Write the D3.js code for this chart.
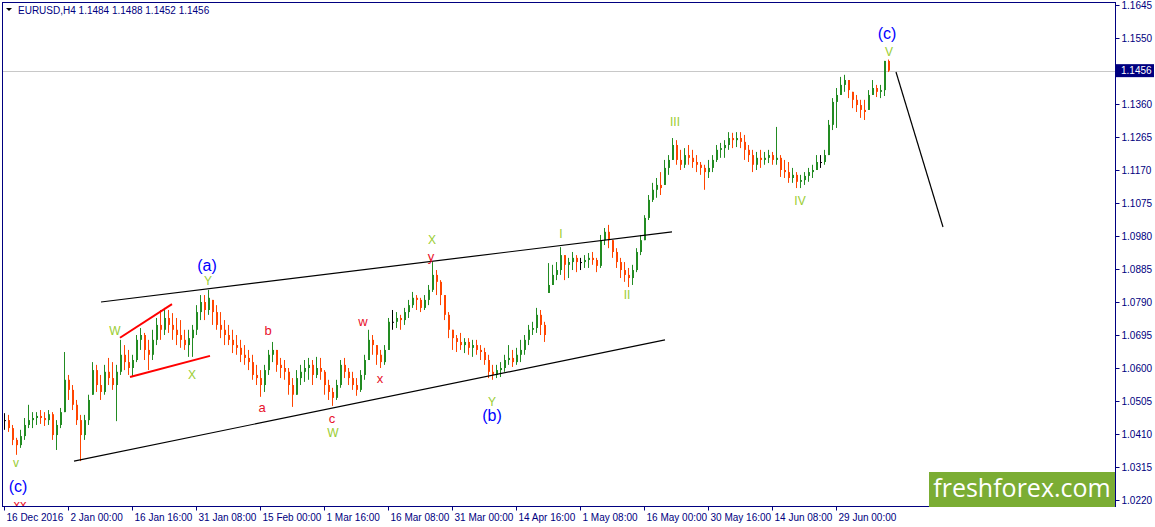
<!DOCTYPE html>
<html>
<head>
<meta charset="utf-8">
<script src="https://cdn.jsdelivr.net/npm/d3@7"></script>
<style>
  body { margin: 0; background: #fff; }
  svg { display: block; font-family: "Liberation Sans", Arial, sans-serif; }
</style>
</head>
<body>
<div id="chart"></div>
<script>
// EURUSD H4, 16 Dec 2016 .. early Jul 2017 (each bar here ~ 4 real H4 bars)
var highs = [1.0470,1.0465,1.0436,1.0399,1.0422,1.0456,1.0494,1.0473,1.0473,1.0479,1.0473,1.0479,1.0473,1.0450,1.0485,1.0646,
  1.0580,1.0551,1.0508,1.0465,1.0465,1.0523,1.0617,1.0609,1.0580,1.0609,1.0629,1.0617,1.0609,1.0681,1.0666,1.0652,
  1.0638,1.0695,1.0715,1.0701,1.0681,1.0710,1.0744,1.0767,1.0773,1.0767,1.0758,1.0744,1.0738,1.0710,1.0710,1.0724,
  1.0781,1.0810,1.0810,1.0825,1.0796,1.0781,1.0761,1.0738,1.0724,1.0710,1.0695,1.0681,1.0666,1.0652,1.0638,1.0609,
  1.0594,1.0609,1.0652,1.0675,1.0652,1.0629,1.0623,1.0600,1.0571,1.0594,1.0609,1.0623,1.0629,1.0623,1.0632,1.0629,
  1.0594,1.0566,1.0543,1.0566,1.0623,1.0629,1.0600,1.0589,1.0571,1.0594,1.0638,1.0710,1.0695,1.0666,1.0652,1.0666,
  1.0744,1.0767,1.0761,1.0753,1.0773,1.0796,1.0819,1.0810,1.0802,1.0810,1.0839,1.0905,1.0882,1.0853,1.0810,1.0761,
  1.0710,1.0695,1.0701,1.0686,1.0686,1.0681,1.0681,1.0666,1.0658,1.0638,1.0609,1.0609,1.0617,1.0638,1.0666,1.0652,
  1.0658,1.0681,1.0695,1.0724,1.0733,1.0773,1.0767,1.0733,1.0902,1.0897,1.0905,1.0948,1.0925,1.0917,1.0934,1.0925,
  1.0917,1.0925,1.0931,1.0934,1.0917,1.0983,1.1003,1.1012,1.0968,1.0945,1.0917,1.0905,1.0888,1.0897,1.0945,1.0983,
  1.1040,1.1098,1.1133,1.1147,1.1164,1.1199,1.1213,1.1262,1.1256,1.1228,1.1233,1.1242,1.1228,1.1213,1.1193,1.1185,
  1.1199,1.1213,1.1242,1.1248,1.1256,1.1279,1.1277,1.1279,1.1279,1.1271,1.1242,1.1228,1.1222,1.1228,1.1222,1.1228,
  1.1222,1.1294,1.1213,1.1199,1.1193,1.1176,1.1164,1.1156,1.1164,1.1176,1.1185,1.1213,1.1213,1.1228,1.1314,1.1377,
  1.1406,1.1438,1.1444,1.1429,1.1395,1.1386,1.1372,1.1372,1.1400,1.1429,1.1415,1.1415,1.1484,1.1488];
var lows = [1.0422,1.0416,1.0378,1.0350,1.0370,1.0393,1.0427,1.0427,1.0436,1.0439,1.0433,1.0436,1.0393,1.0364,1.0427,1.0473,
  1.0508,1.0479,1.0436,1.0332,1.0393,1.0436,1.0523,1.0531,1.0508,1.0523,1.0551,1.0537,1.0447,1.0580,1.0594,1.0580,
  1.0574,1.0617,1.0652,1.0623,1.0594,1.0623,1.0666,1.0681,1.0695,1.0701,1.0681,1.0666,1.0658,1.0652,1.0632,1.0632,
  1.0695,1.0738,1.0738,1.0753,1.0724,1.0710,1.0686,1.0666,1.0666,1.0643,1.0638,1.0617,1.0609,1.0594,1.0566,1.0551,
  1.0517,1.0531,1.0580,1.0617,1.0589,1.0571,1.0566,1.0523,1.0488,1.0523,1.0551,1.0560,1.0566,1.0551,1.0571,1.0566,
  1.0523,1.0508,1.0491,1.0508,1.0543,1.0571,1.0551,1.0537,1.0520,1.0531,1.0566,1.0623,1.0638,1.0609,1.0600,1.0609,
  1.0652,1.0710,1.0715,1.0710,1.0724,1.0744,1.0773,1.0767,1.0761,1.0767,1.0781,1.0819,1.0810,1.0781,1.0738,1.0686,
  1.0652,1.0646,1.0652,1.0643,1.0638,1.0632,1.0638,1.0623,1.0609,1.0571,1.0566,1.0571,1.0574,1.0589,1.0609,1.0603,
  1.0609,1.0617,1.0638,1.0666,1.0695,1.0701,1.0695,1.0675,1.0816,1.0839,1.0853,1.0868,1.0853,1.0859,1.0882,1.0876,
  1.0882,1.0888,1.0888,1.0897,1.0876,1.0888,1.0954,1.0945,1.0917,1.0888,1.0859,1.0848,1.0833,1.0839,1.0876,1.0925,
  1.0968,1.1026,1.1078,1.1090,1.1098,1.1127,1.1156,1.1199,1.1185,1.1170,1.1176,1.1185,1.1176,1.1164,1.1156,1.1113,
  1.1147,1.1164,1.1193,1.1205,1.1205,1.1228,1.1233,1.1236,1.1233,1.1199,1.1193,1.1164,1.1170,1.1176,1.1185,1.1190,
  1.1185,1.1185,1.1150,1.1147,1.1133,1.1133,1.1118,1.1118,1.1127,1.1136,1.1147,1.1170,1.1176,1.1185,1.1213,1.1285,
  1.1291,1.1386,1.1395,1.1377,1.1348,1.1337,1.1320,1.1314,1.1343,1.1386,1.1380,1.1377,1.1383,1.1452];
var closes = [1.0450,1.0427,1.0393,1.0378,1.0404,1.0436,1.0450,1.0456,1.0462,1.0456,1.0450,1.0467,1.0407,1.0436,1.0473,1.0566,
  1.0537,1.0494,1.0450,1.0407,1.0450,1.0508,1.0594,1.0551,1.0531,1.0589,1.0571,1.0551,1.0589,1.0638,1.0617,1.0600,
  1.0623,1.0681,1.0695,1.0652,1.0638,1.0681,1.0724,1.0710,1.0744,1.0724,1.0710,1.0695,1.0681,1.0666,1.0686,1.0710,
  1.0761,1.0790,1.0767,1.0802,1.0761,1.0724,1.0710,1.0695,1.0681,1.0666,1.0658,1.0638,1.0629,1.0617,1.0580,1.0571,
  1.0551,1.0594,1.0638,1.0652,1.0609,1.0600,1.0589,1.0551,1.0523,1.0571,1.0589,1.0600,1.0609,1.0580,1.0600,1.0589,
  1.0551,1.0531,1.0514,1.0551,1.0609,1.0589,1.0571,1.0551,1.0537,1.0580,1.0623,1.0681,1.0666,1.0638,1.0617,1.0652,
  1.0733,1.0733,1.0744,1.0738,1.0761,1.0781,1.0802,1.0796,1.0773,1.0796,1.0825,1.0868,1.0848,1.0810,1.0753,1.0710,
  1.0686,1.0675,1.0666,1.0675,1.0658,1.0666,1.0652,1.0646,1.0623,1.0589,1.0580,1.0594,1.0600,1.0623,1.0629,1.0617,
  1.0638,1.0652,1.0681,1.0710,1.0715,1.0753,1.0724,1.0695,1.0839,1.0868,1.0882,1.0925,1.0897,1.0905,1.0917,1.0905,
  1.0905,1.0911,1.0917,1.0911,1.0894,1.0968,1.0992,1.0968,1.0934,1.0905,1.0882,1.0868,1.0859,1.0882,1.0934,1.0968,
  1.1032,1.1084,1.1113,1.1127,1.1118,1.1176,1.1199,1.1242,1.1199,1.1185,1.1213,1.1205,1.1193,1.1185,1.1176,1.1164,
  1.1176,1.1199,1.1228,1.1233,1.1242,1.1262,1.1256,1.1262,1.1251,1.1228,1.1213,1.1185,1.1205,1.1199,1.1205,1.1213,
  1.1199,1.1205,1.1170,1.1164,1.1147,1.1156,1.1136,1.1141,1.1153,1.1164,1.1170,1.1193,1.1193,1.1213,1.1300,1.1366,
  1.1386,1.1415,1.1429,1.1400,1.1372,1.1357,1.1343,1.1337,1.1386,1.1406,1.1395,1.1400,1.1484,1.1456];

var priceTicks = [1.1645,1.1550,1.1360,1.1265,1.1170,1.1075,1.0980,1.0885,1.0790,1.0695,1.0600,1.0505,1.0410,1.0315,1.0220];
var timeTickBars = [0,16,32,48,64,80,96,112,128,144,160,176,192,208];
var timeTickLabels = ["16 Dec 2016","2 Jan 00:00","16 Jan 16:00","31 Jan 08:00","15 Feb 00:00","1 Mar 16:00",
  "16 Mar 08:00","31 Mar 00:00","14 Apr 16:00","1 May 08:00","16 May 00:00","30 May 16:00","14 Jun 08:00","29 Jun 00:00"];
var lastPrice = 1.1456;
var header = "EURUSD,H4  1.1484 1.1488 1.1452 1.1456";

// wave labels: [text, bar, price, kind]
var waveLabels = [
  ["(c)",3.5,1.0260,"blue"],["xx",4,1.0207,"red"],["v",3,1.0327,"green"],
  ["W",27.75,1.0707,"green"],["X",47,1.0580,"green"],["Y",51,1.0850,"green"],["(a)",50.75,1.0894,"blue"],
  ["b",66,1.0707,"red"],["a",64.5,1.0485,"red"],["c",82,1.0456,"red"],["W",82.25,1.0413,"green"],
  ["w",89.75,1.0733,"red"],["x",94,1.0571,"red"],["X",107,1.0968,"green"],["y",106.75,1.0922,"red"],
  ["Y",122,1.0502,"green"],["(b)",122,1.0462,"blue"],
  ["I",139.25,1.0986,"green"],["II",155.75,1.0810,"green"],["III",167.75,1.1308,"green"],
  ["IV",199,1.1081,"green"],["V",221.25,1.1511,"green"],["(c)",220.75,1.1564,"blue"]
];
// drawn lines: [bar1, price1, bar2, price2, kind]
var trendLines = [
  [24.25,1.0790,167,1.0992,"channel"],
  [17.5,1.0332,165.25,1.0681,"channel"],
  [29,1.0687,42,1.0784,"triangle"],
  [31.5,1.0574,51.5,1.0635,"triangle"],
  [223,1.1452,234.75,1.1006,"channel"]
];

var W = 1155, H = 527;
var plot = {left: 2, top: 2, right: 1115, bottom: 506};
var navy = "#000080";

var svg = d3.select("#chart").append("svg")
    .attr("width", W).attr("height", H);
svg.append("rect").attr("width", W).attr("height", H).attr("fill", "#fff");

var x = d3.scaleLinear().domain([0, closes.length - 1]).range([4, 888]);
var y = d3.scaleLinear().domain([1.0220, 1.1645]).range([500, 5]);

svg.append("clipPath").attr("id", "plotclip").append("rect")
    .attr("x", plot.left).attr("y", plot.top)
    .attr("width", plot.right - plot.left).attr("height", plot.bottom - plot.top);
var g = svg.append("g").attr("clip-path", "url(#plotclip)");

// current price line
g.append("line")
    .attr("x1", plot.left).attr("x2", plot.right)
    .attr("y1", Math.round(y(lastPrice)) + 0.5).attr("y2", Math.round(y(lastPrice)) + 0.5)
    .attr("stroke", "#c8c8c8");

// candles
var bars = closes.map(function(c, i) {
  var o = i === 0 ? c : closes[i - 1];
  o = Math.max(lows[i], Math.min(highs[i], o));
  return {i: i, o: o, h: highs[i], l: lows[i], c: c};
});
function barColor(d) {
  if (d.c > d.o) return "#228b22";
  if (d.c < d.o) return "#ff4500";
  return "#000";
}
var cg = g.append("g");
cg.selectAll("line.wick").data(bars).enter().append("line")
    .attr("class", "wick")
    .attr("x1", function(d) { return Math.round(x(d.i)) + 0.5; })
    .attr("x2", function(d) { return Math.round(x(d.i)) + 0.5; })
    .attr("y1", function(d) { return y(d.h); })
    .attr("y2", function(d) { return y(d.l); })
    .attr("stroke", barColor).attr("stroke-width", 1);
cg.selectAll("rect.body").data(bars).enter().append("rect")
    .attr("class", "body")
    .attr("x", function(d) { return Math.round(x(d.i)); })
    .attr("width", 2)
    .attr("y", function(d) { return y(Math.max(d.o, d.c)); })
    .attr("height", function(d) { return Math.max(1, Math.abs(y(d.o) - y(d.c))); })
    .attr("fill", barColor);

// trend lines
g.selectAll("line.trend").data(trendLines).enter().append("line")
    .attr("x1", function(d) { return x(d[0]); }).attr("y1", function(d) { return y(d[1]); })
    .attr("x2", function(d) { return x(d[2]); }).attr("y2", function(d) { return y(d[3]); })
    .attr("stroke", function(d) { return d[4] === "triangle" ? "#ff0000" : "#000"; })
    .attr("stroke-width", function(d) { return d[4] === "triangle" ? 2 : 1.2; });

// wave labels
var labelStyle = {
  blue: {fill: "#0000ff", size: 16},
  red: {fill: "#e8102a", size: 13},
  green: {fill: "#9acd32", size: 12}
};
g.selectAll("text.wave").data(waveLabels).enter().append("text")
    .attr("x", function(d) { return x(d[1]); })
    .attr("y", function(d) { return y(d[2]); })
    .attr("text-anchor", "middle")
    .attr("dominant-baseline", "central")
    .attr("font-family", "Liberation Sans, Arial, sans-serif")
    .attr("font-size", function(d) { return labelStyle[d[3]].size; })
    .attr("fill", function(d) { return labelStyle[d[3]].fill; })
    .text(function(d) { return d[0]; });

// frame
svg.append("rect")
    .attr("x", plot.left + 0.5).attr("y", plot.top + 0.5)
    .attr("width", plot.right - plot.left).attr("height", plot.bottom - plot.top)
    .attr("fill", "none").attr("stroke", navy);

// right price axis
var yAxis = svg.append("g")
    .attr("transform", "translate(" + (plot.right + 0.5) + ",0)")
    .call(d3.axisRight(y).tickValues(priceTicks).tickFormat(d3.format(".4f")).tickSize(4).tickPadding(2));
yAxis.select(".domain").remove();
yAxis.selectAll("line").attr("stroke", navy);
yAxis.selectAll("text").attr("fill", navy).attr("font-size", 10)
    .attr("font-family", "Liberation Sans, Arial, sans-serif");

// last price box
svg.append("rect")
    .attr("x", plot.right + 1).attr("y", y(lastPrice) - 6.5)
    .attr("width", 38).attr("height", 13).attr("fill", navy);
svg.append("text")
    .attr("x", plot.right + 6).attr("y", y(lastPrice))
    .attr("dominant-baseline", "central")
    .attr("font-size", 10).attr("fill", "#fff")
    .text(d3.format(".4f")(lastPrice));

// bottom time axis
var xAxis = svg.append("g")
    .attr("transform", "translate(0," + (plot.bottom + 0.5) + ")")
    .call(d3.axisBottom(x).tickValues(timeTickBars)
      .tickFormat(function(d, i) { return timeTickLabels[i]; }).tickSize(4).tickPadding(3));
xAxis.select(".domain").remove();
xAxis.selectAll("line").attr("stroke", navy);
xAxis.selectAll("text").attr("fill", navy).attr("font-size", 10)
    .attr("font-family", "Liberation Sans, Arial, sans-serif")
    .attr("text-anchor", "start").attr("dx", 2);

// header
svg.append("path").attr("d", "M6,8 L12,8 L9,11 Z").attr("fill", "#000");
svg.append("text")
    .attr("x", 18).attr("y", 14)
    .attr("font-size", 10).attr("fill", navy)
    .text(header);

// watermark
svg.append("rect")
    .attr("x", 929).attr("y", 472).attr("width", 186).attr("height", 35)
    .attr("fill", "#7bad34");
svg.append("text")
    .attr("x", 1022).attr("y", 497)
    .attr("text-anchor", "middle")
    .attr("font-family", "Open Sans, sans-serif")
    .attr("font-size", 25).attr("fill", "#fff")
    .text("freshforex.com");
</script>
</body>
</html>
